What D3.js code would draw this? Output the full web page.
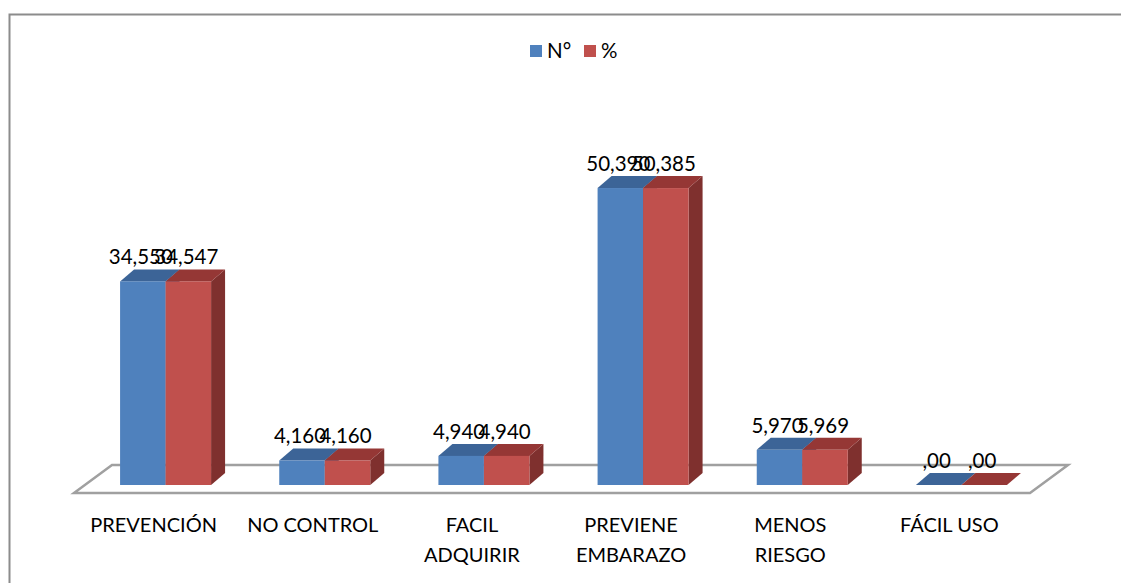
<!DOCTYPE html>
<html>
<head>
<meta charset="utf-8">
<script src="https://cdn.jsdelivr.net/npm/d3@7"></script>
<style>
  body { margin: 0; background: #fff; }
  svg { font-family: Lato, "Open Sans", sans-serif; }
</style>
</head>
<body>
<svg width="1121" height="583"></svg>
<script>
// chart data
var categories = ["PREVENCIÓN", "NO CONTROL", "FACIL ADQUIRIR", "PREVIENE EMBARAZO", "MENOS RIESGO", "FÁCIL USO"];
var seriesNames = ["N°", "%"];
var numValues = [34.550, 4.160, 4.940, 50.390, 5.970, 0];
var pctValues = [34.547, 4.160, 4.940, 50.385, 5.969, 0];

var svg = d3.select("svg");

var base = 485,     // front bottom of the bars
  depthX = 14, depthY = -12;

var colors = {
  front: ["#4f81bd", "#c0504d"],
  top: ["#3c6497", "#953735"],
  side: ["#385d8a", "#7f302e"]
};

var x = d3.scaleBand().domain(categories).range([86, 1041]);
var xs = d3.scaleBand().domain(seriesNames).range([-45.5, 45.5]);
var y = d3.scaleLinear().domain([0, 60]).range([base, base - 353.6]);

function fmt(v) {
  if (v === 0) return ",00";
  return d3.format(".3f")(v).replace(".", ",");
}

// outer frame (cropped chart area)
svg.append("path")
  .attr("d", "M9.5,583 L9.5,14.5 L1121,14.5")
  .attr("fill", "none")
  .attr("stroke", "#8c8c8c")
  .attr("stroke-width", 2);

// floor
svg.append("path")
  .attr("d", "M74,493 L1030,493 L1068,465 L112,465 Z")
  .attr("fill", "#fff")
  .attr("stroke", "#a0a0a0")
  .attr("stroke-width", 2.5)
  .attr("stroke-linejoin", "miter");

// bars, series by series
var data = [];
categories.forEach(function(c, i) {
  data.push({cat: c, s: 0, v: numValues[i]});
  data.push({cat: c, s: 1, v: pctValues[i]});
});

var bars = svg.append("g").attr("class", "bars")
  .selectAll("g")
  .data(data)
  .enter().append("g");

bars.each(function(d) {
  var g = d3.select(this);
  var x0 = x(d.cat) + x.bandwidth() / 2 + xs(seriesNames[d.s]);
  var x1 = x0 + xs.bandwidth();
  var yt = y(d.v);
  // side
  g.append("path")
    .attr("d", "M" + x1 + "," + base + " L" + (x1 + depthX) + "," + (base + depthY) +
      " L" + (x1 + depthX) + "," + (yt + depthY) + " L" + x1 + "," + yt + "Z")
    .attr("fill", colors.side[d.s]);
  // top
  g.append("path")
    .attr("d", "M" + x0 + "," + yt + " L" + x1 + "," + yt +
      " L" + (x1 + depthX) + "," + (yt + depthY) + " L" + (x0 + depthX) + "," + (yt + depthY) + "Z")
    .attr("fill", colors.top[d.s]);
  // front
  if (d.v > 0) {
    g.append("rect")
      .attr("x", x0).attr("y", yt)
      .attr("width", x1 - x0).attr("height", base - yt)
      .attr("fill", colors.front[d.s]);
  }
});

// value labels (they overlap in the original too)
svg.append("g").attr("class", "labels")
  .selectAll("text")
  .data(data)
  .enter().append("text")
    .attr("x", function(d) { return x(d.cat) + x.bandwidth() / 2 + xs(seriesNames[d.s]) + xs.bandwidth() / 2 - 2; })
    .attr("y", function(d) { return y(d.v) - 17; })
    .attr("text-anchor", "middle")
    .attr("font-size", 20.5)
    .attr("fill", "#000")
    .text(function(d) { return fmt(d.v); });

// category labels, wrapped
var catLabels = svg.append("g").attr("class", "cats")
  .selectAll("text")
  .data(categories)
  .enter().append("text")
    .attr("x", function(d) { return x(d) + x.bandwidth() / 2 - 12; })
    .attr("y", 532)
    .attr("text-anchor", "middle")
    .attr("font-size", 20)
    .attr("fill", "#000");

catLabels.each(function(d) {
  var t = d3.select(this);
  t.text(d);
  if (this.getComputedTextLength() > 138) {
    t.text(null);
    var words = d.split(" ");
    words.forEach(function(w, i) {
      t.append("tspan")
        .attr("x", t.attr("x"))
        .attr("dy", i === 0 ? 0 : 30)
        .text(w);
    });
  }
});

// legend
var legend = svg.append("g").attr("class", "legend")
  .selectAll("g")
  .data(seriesNames)
  .enter().append("g")
    .attr("transform", function(d, i) { return "translate(" + (530 + i * 54) + ",45)"; });

legend.append("rect")
  .attr("width", 12).attr("height", 12)
  .attr("fill", function(d, i) { return colors.front[i]; });

legend.append("text")
  .attr("x", 17).attr("y", 13)
  .attr("font-size", 20.5)
  .text(function(d) { return d; });
</script>
</body>
</html>
